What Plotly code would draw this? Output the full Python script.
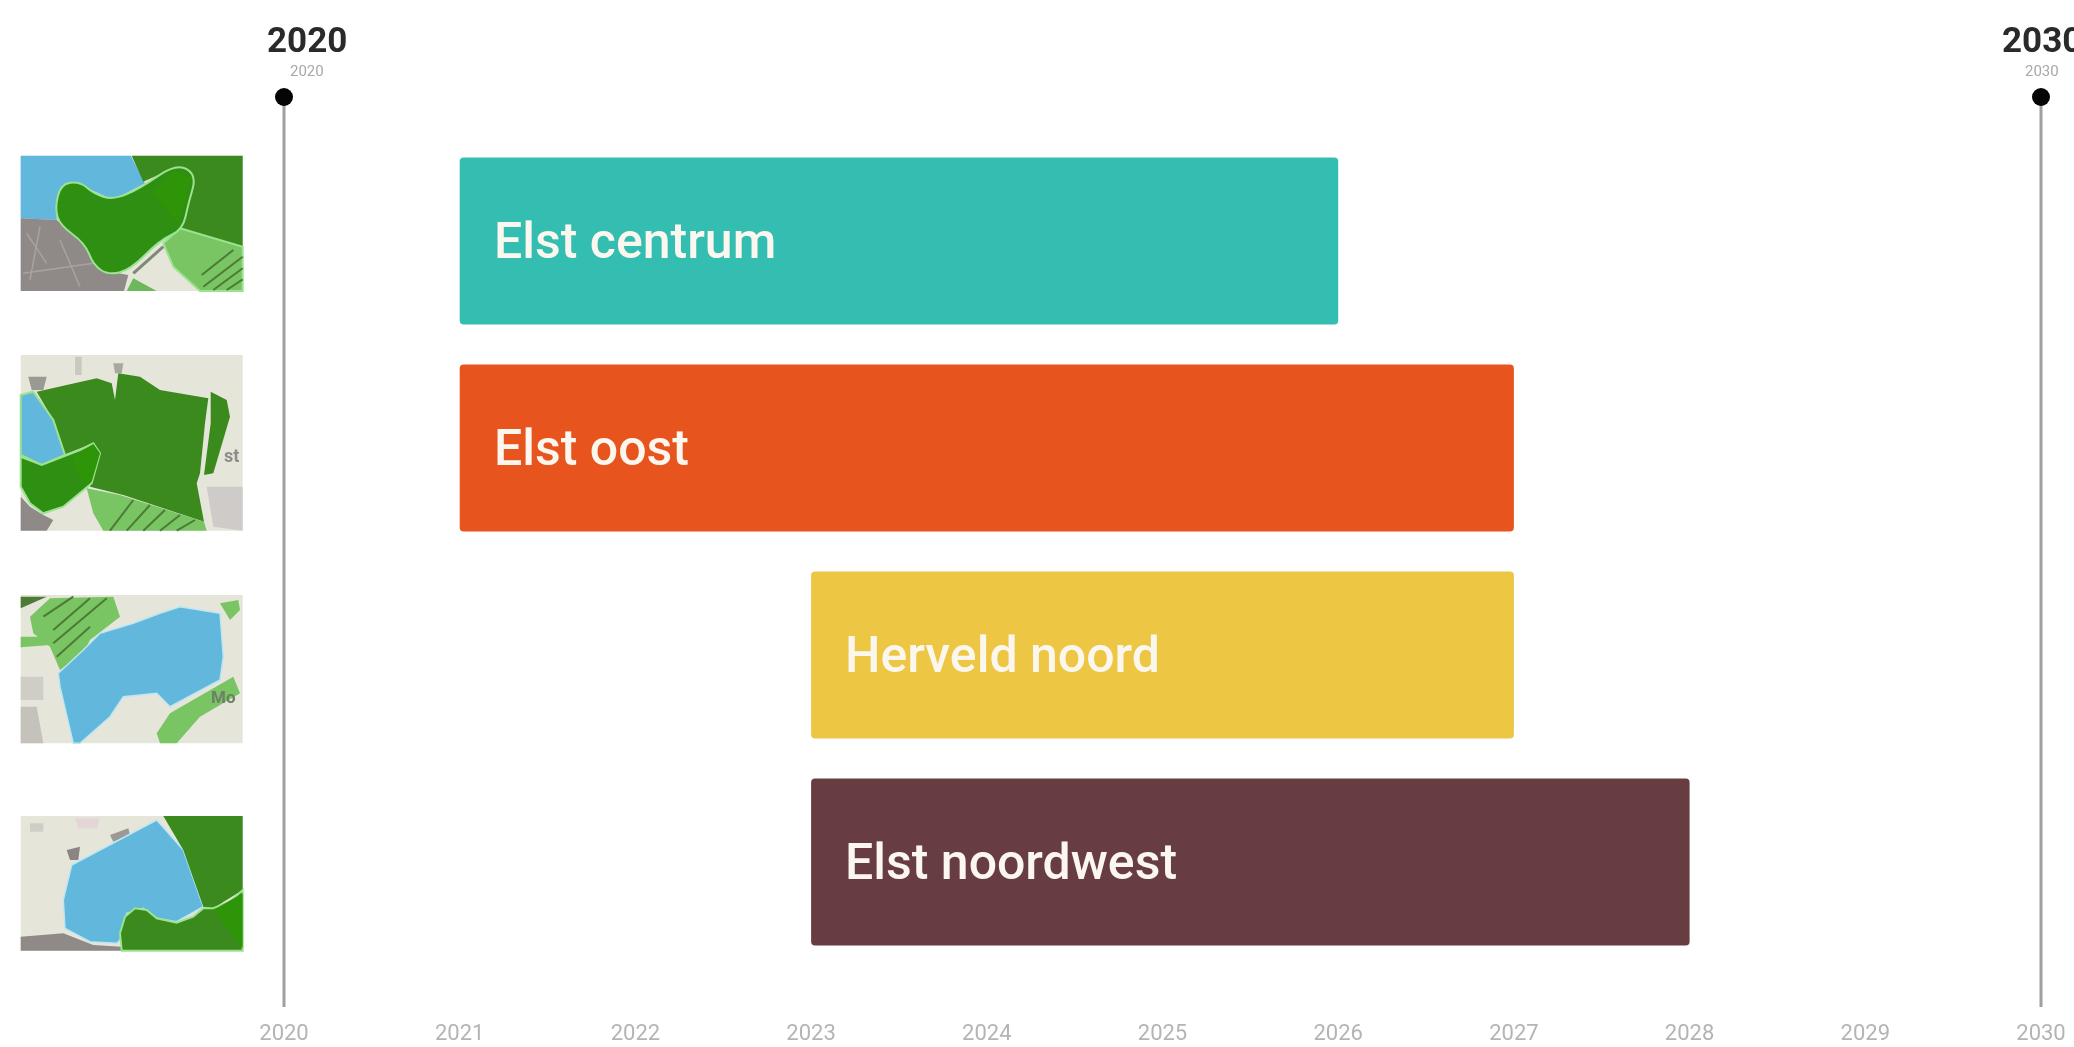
import plotly.graph_objects as go

# ---- data ----
projects = ["Elst centrum", "Elst oost", "Herveld noord", "Elst noordwest"]
start_year = [2021, 2021, 2023, 2023]
end_year = [2026, 2027, 2027, 2028]
bar_colors = ["#34BDB1", "#E8541E", "#EDC643", "#683D42"]
tick_years = list(range(2020, 2031))
milestones = [2020, 2030]
milestone_shift = [23, 1]

W, H, PLOT_H = 2074, 1047, 1017
X0, PX_YEAR = 284.0, 175.7

fig = go.Figure()
fig.add_trace(go.Bar(
    y=projects, x=[e - s for s, e in zip(start_year, end_year)], base=start_year,
    orientation="h", marker=dict(color=bar_colors, line_width=0, cornerradius=4), width=0.807,
    hoverinfo="skip", showlegend=False,
))

# milestone lines and dots
line_x, line_y = [], []
for m in milestones:
    line_x += [m, m, None]
    line_y += [97, 1007, None]
fig.add_trace(go.Scatter(x=line_x, y=line_y, yaxis="y2", mode="lines",
                         line=dict(color="#a0a0a0", width=3), hoverinfo="skip", showlegend=False))
fig.add_trace(go.Scatter(x=milestones, y=[97] * len(milestones), yaxis="y2", mode="markers",
                         marker=dict(color="#050505", size=18), hoverinfo="skip", showlegend=False))

annotations = []
for name, s in zip(projects, start_year):
    annotations.append(dict(x=s, y=name, text=name, xanchor="left", yanchor="middle", xshift=32,
                            showarrow=False,
                            font=dict(family="Roboto", size=50, color="#FBF7EF", weight=500)))
for m, sh in zip(milestones, milestone_shift):
    annotations.append(dict(x=m, y=40, yref="y2", text=str(m), showarrow=False, xshift=sh,
                            font=dict(family="Roboto", size=35, color="#2a2a2a", weight=700)))
    annotations.append(dict(x=m, y=71, yref="y2", text=str(m), showarrow=False, xshift=sh,
                            font=dict(family="Roboto", size=15, color="#a8a8a8")))

# ---- thumbnails (decorative maps), outlined in zoom-crop coordinates ----
shapes = []


def poly(pts, ox, oy, fill, line=None, lw=2, smooth=False, closed=True):
    P = [(ox + x / 3, oy + y / 3) for x, y in pts]
    if smooth:
        mid = [((P[i][0] + P[(i + 1) % len(P)][0]) / 2, (P[i][1] + P[(i + 1) % len(P)][1]) / 2)
               for i in range(len(P))]
        d = f"M{mid[-1][0]:.1f},{mid[-1][1]:.1f} "
        for i in range(len(P)):
            d += f"Q{P[i][0]:.1f},{P[i][1]:.1f} {mid[i][0]:.1f},{mid[i][1]:.1f} "
        d += "Z"
    else:
        d = "M" + " L".join(f"{x:.1f},{y:.1f}" for x, y in P) + (" Z" if closed else "")
    shapes.append(dict(type="path", path=d, xref="x2", yref="y2", layer="below",
                       fillcolor=fill if fill else "rgba(0,0,0,0)",
                       line=dict(color=line if line else "rgba(0,0,0,0)", width=lw if line else 0)))


def stripes(segs, ox, oy, color="#4d7a35", lw=2):
    for a, b in segs:
        poly([a, b], ox, oy, None, line=color, lw=lw, closed=False)


BLUE, GREEN, DARK, LIGHT, EDGE, GRAY, PALE = ("#62B7DC", "#3B8A1E", "#2F8F12", "#79C463",
                                              "#9BE38E", "#8F8A88", "#E6E5DA")
HALO = "#BDE6F0"
# thumb 1
o = (0, 0)
poly([(62, 467), (728, 467), (728, 873), (62, 873)], *o, PALE)
poly([(62, 467), (392, 467), (435, 550), (340, 600), (230, 550), (170, 620), (170, 660), (62, 655)], *o, BLUE)
poly([(395, 467), (728, 467), (728, 740), (540, 685), (580, 540), (530, 500), (430, 545)], *o, GREEN)
poly([(62, 655), (170, 660), (260, 740), (300, 810), (385, 825), (372, 873), (62, 873)], *o, GRAY)
stripes([((80, 700), (140, 790)), ((120, 680), (90, 840)), ((180, 720), (240, 860)),
         ((70, 820), (280, 790))], *o, color="#a9a3a0", lw=1.5)
poly([(540, 685), (728, 740), (728, 873), (600, 873), (520, 800), (490, 730)], *o, LIGHT, line=EDGE)
poly([(380, 873), (400, 835), (470, 873)], *o, "#6DB85A")
poly([(165, 625), (182, 552), (240, 545), (280, 580), (340, 600), (420, 565), (530, 490), (590, 525),
      (565, 610), (548, 690), (480, 720), (390, 810), (325, 825), (280, 795), (255, 730), (180, 675)],
     *o, DARK, line=EDGE, smooth=True)
poly([(455, 580), (525, 512), (572, 532), (555, 610), (535, 670)], *o, "#2E9408")
stripes([((610, 860), (728, 770)), ((640, 870), (728, 805)), ((680, 870), (728, 838)),
         ((605, 825), (700, 750))], *o)
stripes([((400, 820), (490, 740))], *o, color="#7d8a78", lw=3)

# thumb 2
o = (0, 340)
poly([(62, 45), (728, 45), (728, 572), (62, 572)], *o, PALE)
poly([(85, 110), (140, 110), (130, 150), (95, 150)], *o, "#9a9a92")
poly([(225, 50), (245, 50), (245, 105), (225, 105)], *o, "#c9c9c0")
poly([(340, 70), (370, 70), (365, 100), (345, 100)], *o, "#a8a8a0")
poly([(620, 440), (728, 440), (728, 572), (640, 560)], *o, "#cfcbc8")
poly([(62, 470), (90, 500), (130, 525), (160, 540), (140, 572), (62, 572)], *o, GRAY)
poly([(110, 155), (290, 115), (335, 130), (345, 180), (355, 100), (420, 110), (480, 150), (625, 175),
      (615, 250), (600, 400), (590, 430), (612, 545), (370, 465), (270, 440), (295, 340), (280, 310),
      (190, 345), (160, 240)], *o, GREEN)
poly([(632, 155), (680, 180), (690, 230), (640, 400), (612, 405), (632, 250)], *o, GREEN)
poly([(62, 165), (100, 155), (160, 240), (195, 345), (125, 375), (62, 345)], *o, BLUE, line=EDGE)
poly([(62, 350), (125, 375), (240, 330), (280, 310), (300, 340), (275, 430), (190, 500), (130, 520),
      (90, 490), (62, 440)], *o, DARK, line=EDGE, smooth=False)
poly([(215, 355), (280, 312), (300, 340), (275, 425), (245, 425)], *o, "#2E9408")
poly([(260, 445), (360, 465), (612, 545), (620, 572), (310, 572), (280, 520)], *o, LIGHT)
stripes([((330, 572), (400, 480)), ((380, 572), (450, 495)), ((430, 572), (495, 510)),
         ((480, 572), (540, 525)), ((530, 572), (585, 540))], *o)
annotations.append(dict(x=695 / 3, y=340 + 345 / 3, xref="x2", yref="y2", text="st", showarrow=False,
                        font=dict(family="Roboto", size=18, color="#8c8c8c", weight=700)))

# thumb 3
o = (0, 340)
poly([(62, 765), (728, 765), (728, 1210), (62, 1210)], *o, PALE)
poly([(62, 1010), (130, 1010), (130, 1080), (62, 1080)], *o, "#cfcdc6")
poly([(62, 1100), (110, 1100), (130, 1210), (62, 1210)], *o, "#c4c2bb")
poly([(62, 890), (150, 890), (150, 915), (62, 922)], *o, LIGHT)
poly([(90, 830), (150, 775), (340, 770), (360, 830), (270, 900), (250, 940), (180, 990), (150, 920),
      (100, 880)], *o, LIGHT)
poly([(62, 770), (140, 770), (62, 805)], *o, "#4d7a35")
stripes([((160, 870), (270, 775)), ((160, 910), (320, 775)), ((170, 950), (270, 860)),
         ((130, 830), (220, 770))], *o)
poly([(250, 930), (300, 880), (400, 850), (480, 820), (540, 800), (660, 820), (670, 950), (660, 1020),
      (510, 1100), (470, 1060), (370, 1070), (330, 1130), (240, 1210), (220, 1210), (180, 1040),
      (175, 1000)], *o, BLUE, line=HALO, lw=1.5)
poly([(470, 1180), (510, 1120), (700, 1010), (720, 1060), (600, 1130), (530, 1210), (480, 1210)], *o, LIGHT)
poly([(660, 790), (715, 780), (720, 810), (690, 840)], *o, LIGHT)
annotations.append(dict(x=670 / 3, y=340 + 1072 / 3, xref="x2", yref="y2", text="Mo", showarrow=False,
                        font=dict(family="Roboto", size=17, color="#6f7f68", weight=700)))

# thumb 4
o = (0, 740)
poly([(62, 228), (728, 228), (728, 632), (62, 632)], *o, PALE)
poly([(200, 330), (240, 320), (235, 360), (210, 360)], *o, "#8a8583")
poly([(330, 285), (385, 265), (390, 285), (340, 305)], *o, "#9c9896")
poly([(90, 250), (130, 250), (130, 275), (90, 275)], *o, "#cfcdc6")
poly([(225, 235), (300, 235), (290, 265), (235, 265)], *o, "#e4d6d8")
poly([(62, 590), (190, 580), (280, 615), (365, 620), (365, 632), (62, 632)], *o, GRAY)
poly([(215, 375), (470, 240), (550, 330), (610, 500), (530, 545), (470, 535), (430, 505), (380, 520),
      (360, 600), (350, 610), (270, 605), (195, 565), (190, 480)], *o, BLUE, line=HALO, lw=1.5)
poly([(490, 228), (728, 228), (728, 450), (640, 505), (610, 500), (550, 330)], *o, GREEN)
poly([(365, 632), (360, 580), (375, 530), (405, 505), (440, 510), (470, 535), (530, 548), (580, 530),
      (610, 505), (640, 505), (690, 485), (728, 450), (728, 632)], *o, GREEN, line=EDGE)
poly([(640, 510), (728, 460), (728, 625)], *o, "#2E9408")

fig.update_layout(
    width=W, height=H, margin=dict(l=0, r=0, t=0, b=H - PLOT_H, autoexpand=False),
    paper_bgcolor="white", plot_bgcolor="white", showlegend=False,
    shapes=shapes, annotations=annotations,
    xaxis=dict(range=[2020 - X0 / PX_YEAR, 2020 + (W - X0) / PX_YEAR], tickvals=tick_years,
               showgrid=False, zeroline=False, showline=False, ticks="", fixedrange=True,
               automargin=False,
               tickfont=dict(family="Roboto", size=22, color="#b4b4b4")),
    yaxis=dict(range=[(PLOT_H - 241) / 207, -241 / 207], visible=False, type="category",
               categoryorder="array", categoryarray=projects, fixedrange=True),
    yaxis2=dict(range=[PLOT_H, 0], overlaying="y", visible=False, fixedrange=True),
    xaxis2=dict(range=[0, W], overlaying="x", visible=False, fixedrange=True),
)
fig.write_html("out.html", config={"displayModeBar": False},
               post_script="document.documentElement.style.cssText='margin:0;height:1047px;overflow:hidden';"
                           "document.body.style.cssText='margin:0;height:1047px;overflow:hidden';"
                           "document.querySelector('.plotly-graph-div').style.filter='blur(0.7px)';")
